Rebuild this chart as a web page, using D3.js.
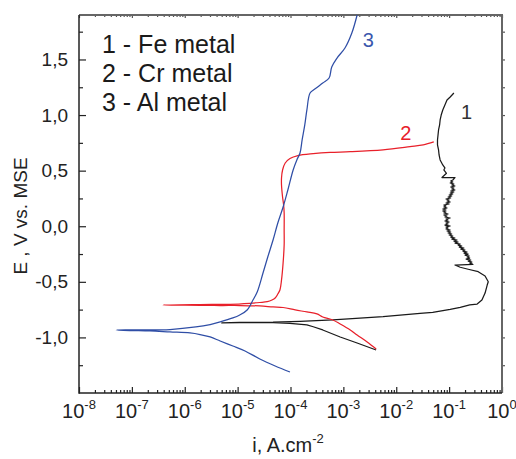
<!DOCTYPE html>
<html><head><meta charset="utf-8">
<script src="https://cdn.jsdelivr.net/npm/d3@7"></script>
<style>
html,body{margin:0;padding:0;background:#fff;}
svg{display:block;font-family:"Liberation Sans",Arial,sans-serif;}
</style></head>
<body><svg id="c" width="516" height="459"></svg>
<script>
// ---- data (log10 of current density in A.cm-2, potential E in V vs MSE) ----
const seriesNames = ["1 - Fe metal", "2 - Cr metal", "3 - Al metal"];
const curveLabels = ["1", "2", "3"];
const xTickExponents = [-8, -7, -6, -5, -4, -3, -2, -1, 0];
const yTickLabels = ["-1,0", "-0,5", "0,0", "0,5", "1,0", "1,5"];
const yTickValues = [-1.0, -0.5, 0.0, 0.5, 1.0, 1.5];

const feLogI = [-2.38,-2.74,-3.06,-3.39,-3.57,-3.69,-4.01,-4.33,-4.96,-5.30,
  -4.96,-4.33,-3.82,-3.20,-2.25,-1.55,-1.31,-0.98,-0.79,-0.61,-0.47,-0.38,-0.32,-0.28,-0.26,-0.32,-0.45,-0.64,-0.79,-0.89,-0.55,
  -0.61,-0.57,-0.64,-0.59,-0.68,-0.61,-0.66,-0.62,-0.70,-0.64,-0.72,-0.66,-0.74,-0.70,-0.78,-0.72,-0.81,-0.76,-0.83,-0.79,
  -0.89,-0.83,-0.91,-0.85,-0.95,-0.89,-0.97,-0.93,-1.00,-0.95,-1.02,-0.97,-1.04,-0.98,-1.06,-1.02,-1.06,-0.98,-1.08,-1.02,
  -1.06,-1.00,-1.08,-1.02,-1.06,-0.98,-1.08,-1.04,-1.10,-1.02,-1.10,-1.06,-1.12,-1.06,-1.12,-1.04,-1.10,-1.06,-1.10,-1.00,
  -1.06,-0.98,-1.04,-1.00,-1.06,-0.97,-1.02,-0.95,-1.00,-0.93,-0.98,-0.91,-0.97,-0.89,-0.95,-0.91,-0.97,-0.89,-0.95,-0.91,
  -0.98,-0.93,-0.97,-0.93,
  -0.89,-1.135,-1.05,-1.10,-1.08,-1.12,-1.15,-1.17,-1.19,-1.20,-1.22,-1.22,-1.21,-1.20,-1.18,-1.17,-1.15,-1.12,-1.08,-1.04,-0.98,-0.91];
const feE = [-1.113,-1.050,-0.996,-0.933,-0.904,-0.888,-0.873,-0.867,-0.867,-0.870,
  -0.865,-0.863,-0.855,-0.843,-0.814,-0.783,-0.774,-0.747,-0.729,-0.708,-0.700,-0.664,-0.601,-0.529,-0.499,-0.448,-0.409,-0.387,-0.369,-0.349,-0.344,
  -0.331,-0.322,-0.313,-0.304,-0.295,-0.286,-0.277,-0.268,-0.259,-0.250,-0.241,-0.232,-0.223,-0.214,-0.205,-0.196,-0.187,-0.178,-0.169,-0.160,
  -0.151,-0.142,-0.133,-0.124,-0.115,-0.106,-0.097,-0.088,-0.079,-0.070,-0.061,-0.052,-0.043,-0.034,-0.025,-0.016,-0.007,0.002,0.011,0.020,
  0.029,0.038,0.047,0.056,0.065,0.074,0.083,0.092,0.101,0.110,0.119,0.128,0.137,0.146,0.155,0.164,0.173,0.182,0.191,0.200,
  0.209,0.218,0.227,0.236,0.245,0.254,0.263,0.272,0.281,0.290,0.299,0.308,0.317,0.326,0.335,0.344,0.353,0.362,0.371,0.380,
  0.389,0.398,0.407,0.416,
  0.438,0.438,0.476,0.506,0.524,0.551,0.578,0.596,0.641,0.686,0.731,0.776,0.821,0.866,0.911,0.956,1.000,1.046,1.090,1.135,1.162,1.198];

const crLogI = [-2.38,-2.55,-2.74,-2.87,-3.06,-3.20,-3.39,-3.50,-3.69,-3.91,-4.14,-4.33,-4.58,-4.96,-5.33,-5.71,-6.41,
  -5.71,-5.14,-4.77,-4.58,-4.44,-4.35,-4.29,-4.24,-4.20,-4.17,-4.14,-4.12,-4.12,-4.12,-4.13,-4.15,-4.17,-4.17,-4.15,-4.10,-4.01,
  -3.86,-3.57,-3.25,-2.87,-2.25,-1.74,-1.49,-1.29];
const crE = [-1.104,-1.041,-0.978,-0.933,-0.879,-0.843,-0.816,-0.789,-0.771,-0.753,-0.731,-0.726,-0.717,-0.713,-0.713,-0.711,-0.708,
  -0.704,-0.702,-0.693,-0.686,-0.679,-0.664,-0.646,-0.610,-0.574,-0.484,-0.331,-0.169,-0.034,0.119,0.191,0.263,0.371,0.434,0.506,0.569,0.609,
  0.636,0.654,0.665,0.670,0.686,0.715,0.731,0.758];

const alLogI = [-4.01,-4.29,-4.58,-4.86,-5.09,-5.33,-5.52,-5.71,-5.90,-6.28,-6.66,-7.04,-7.30,
  -6.79,-6.28,-5.79,-5.52,-5.33,-5.09,-4.96,-4.82,-4.71,-4.63,-4.52,-4.43,-4.33,-4.24,-4.14,-4.05,-3.95,-3.88,-3.82,
  -3.78,-3.73,-3.69,-3.63,-3.54,-3.39,-3.27,-3.22,-3.12,-2.97,-2.84,-2.74];
const alE = [-1.311,-1.257,-1.194,-1.122,-1.077,-1.032,-0.996,-0.974,-0.960,-0.951,-0.942,-0.938,-0.933,
  -0.933,-0.929,-0.906,-0.884,-0.861,-0.825,-0.798,-0.753,-0.664,-0.592,-0.421,-0.277,-0.124,0.029,0.173,0.326,0.506,0.596,0.659,
  0.776,0.911,1.046,1.198,1.234,1.288,1.333,1.432,1.513,1.603,1.738,1.900];

// curve label anchors (log10 i, E)
const labelLogI = [-0.67, -1.82, -2.53];
const labelE = [1.03, 0.836, 1.675];

const colors = ["#1a1a1a", "#e8202a", "#2f4ea6"];
const labelColors = ["#333333", "#e8202a", "#3a57ad"];

// ---- layout ----
const L = 79, R = 502, T = 15, B = 393;
const svg = d3.select("#c");
const x = d3.scaleLog().domain([1e-8, 1]).range([L, R]);
const y = d3.scaleLinear().domain([-1.5, 1.9]).range([B, T]);

const majorX = xTickExponents.map(e => Math.pow(10, e));
const minorX = [];
xTickExponents.slice(0, -1).forEach(e => { for (let k = 2; k <= 9; k++) minorX.push(k * Math.pow(10, e)); });
const minorY = [-1.25, -0.75, -0.25, 0.25, 0.75, 1.25, 1.75];
const allY = yTickValues.concat(minorY);

function styleAxis(g, color, w) {
  g.select(".domain").remove();
  g.selectAll("line").attr("stroke", color).attr("stroke-width", w);
  g.selectAll("text").remove();
}

svg.append("g").attr("transform", `translate(0,${B})`)
  .call(d3.axisBottom(x).tickValues(majorX).tickSize(-6).tickFormat(""))
  .call(g => styleAxis(g, "#222", 1.2));
svg.append("g").attr("transform", `translate(0,${B})`)
  .call(d3.axisBottom(x).tickValues(minorX).tickSize(-3).tickFormat(""))
  .call(g => styleAxis(g, "#222", 1.2));
svg.append("g").attr("transform", `translate(0,${T})`)
  .call(d3.axisTop(x).tickValues(majorX).tickSize(-3).tickFormat(""))
  .call(g => styleAxis(g, "#555", 1.2));
svg.append("g").attr("transform", `translate(0,${T})`)
  .call(d3.axisTop(x).tickValues(minorX).tickSize(-2).tickFormat(""))
  .call(g => styleAxis(g, "#555", 1.2));
svg.append("g").attr("transform", `translate(${L},0)`)
  .call(d3.axisLeft(y).tickValues(yTickValues).tickSize(-7).tickFormat(""))
  .call(g => styleAxis(g, "#222", 1.2));
svg.append("g").attr("transform", `translate(${L},0)`)
  .call(d3.axisLeft(y).tickValues(minorY).tickSize(-4).tickFormat(""))
  .call(g => styleAxis(g, "#222", 1.2));
svg.append("g").attr("transform", `translate(${R},0)`)
  .call(d3.axisRight(y).tickValues(allY).tickSize(3).tickFormat(""))
  .call(g => styleAxis(g, "#555", 1.2));

svg.append("line").attr("x1", L).attr("x2", R + 1).attr("y1", T).attr("y2", T).attr("stroke", "#666").attr("stroke-width", 2);
svg.append("line").attr("x1", R).attr("x2", R).attr("y1", T).attr("y2", B).attr("stroke", "#666").attr("stroke-width", 2);
svg.append("line").attr("x1", L).attr("x2", L).attr("y1", T).attr("y2", B + 0.75).attr("stroke", "#222").attr("stroke-width", 1.5);
svg.append("line").attr("x1", L).attr("x2", R).attr("y1", B).attr("y2", B).attr("stroke", "#222").attr("stroke-width", 1.5);

xTickExponents.forEach(e => {
  const t = svg.append("text").attr("x", x(Math.pow(10, e))).attr("y", 418)
    .attr("text-anchor", "middle").attr("fill", "#222").style("font-size", "20px");
  t.append("tspan").text("10");
  t.append("tspan").attr("dy", -9).style("font-size", "13px").text(String(e));
});
yTickValues.forEach((v, i) => {
  svg.append("text").attr("x", 68).attr("y", y(v)).attr("dy", "0.35em")
    .attr("text-anchor", "end").attr("fill", "#222").style("font-size", "19px").text(yTickLabels[i]);
});

const xt = svg.append("text").attr("x", 288).attr("y", 452).attr("text-anchor", "middle")
  .attr("fill", "#222").style("font-size", "20px");
xt.append("tspan").text("i, A.cm");
xt.append("tspan").attr("dy", -9).style("font-size", "13px").text("-2");
svg.append("text").attr("transform", "translate(27,216) rotate(-90)").attr("text-anchor", "middle")
  .attr("fill", "#222").style("font-size", "19px").text("E , V vs. MSE");

const plot = svg.append("g");
const series = [[feLogI, feE], [crLogI, crE], [alLogI, alE]];
series.forEach(([li, ev], k) => {
  const pts = li.map((v, i) => [Math.pow(10, v), ev[i]]);
  const line = d3.line().x(d => x(d[0])).y(d => y(d[1]))
    .curve(k === 0 ? d3.curveLinear : d3.curveCatmullRom.alpha(0.5));
  plot.append("path").datum(pts).attr("d", line).attr("fill", "none")
    .attr("stroke", colors[k]).attr("stroke-width", 1.25).attr("stroke-linejoin", "round");
});

curveLabels.forEach((s, k) => {
  svg.append("text").attr("x", x(Math.pow(10, labelLogI[k]))).attr("y", y(labelE[k])).attr("dy", "0.35em")
    .attr("text-anchor", "middle").attr("fill", labelColors[k]).style("font-size", "20px").text(s);
});

seriesNames.forEach((s, k) => {
  svg.append("text").attr("x", 102).attr("y", 53 + k * 29).attr("fill", "#1a1a1a")
    .style("font-size", "25px").text(s);
});
</script></body></html>
